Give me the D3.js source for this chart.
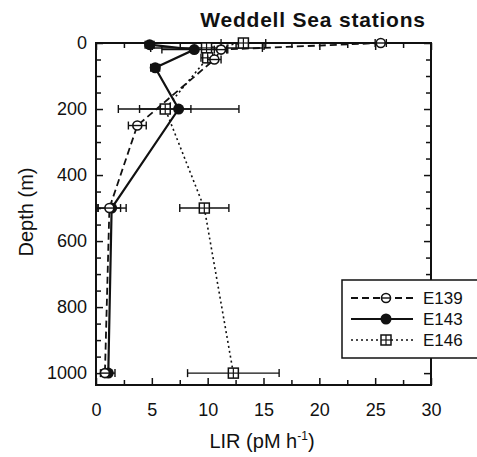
<!DOCTYPE html>
<html><head><meta charset="utf-8">
<script src="https://cdn.jsdelivr.net/npm/d3@7"></script>
<style>body{margin:0;background:#fff}svg{display:block}text{font-family:"Liberation Sans",Arial,sans-serif;fill:#111}</style>
</head><body>
<svg id="c" width="477" height="457"></svg>
<script>
const seriesNames = ["E139", "E143", "E146"];
const depthE139 = [0, 20, 50, 250, 500, 1000];
const valE139   = [25.5, 11.2, 10.6, 3.7, 1.2, 0.8];
const errE139   = [0.5, 0.6, 0.6, 0.8, 1.0, 0.4];
const depthE143 = [5, 20, 75, 200, 500, 1000];
const valE143   = [4.8, 8.8, 5.3, 7.4, 1.4, 1.1];
const errE143   = [0.4, 2.9, 0.4, 5.4, 1.3, 0.6];
const depthE146 = [0, 15, 45, 200, 500, 1000];
const valE146   = [13.2, 9.9, 10.0, 6.2, 9.7, 12.3];
const errE146   = [2.0, 5.0, 0.6, 2.3, 2.2, 4.1];
const xTicks = [0, 5, 10, 15, 20, 25, 30];
const yTicks = [0, 200, 400, 600, 800, 1000];

const svg = d3.select("#c");
const L = 96, R = 431, T = 43, B = 385;
const x = d3.scaleLinear().domain([0, 30]).range([L, R]);
const y = d3.scaleLinear().domain([0, 1036]).range([T, B]);

const series = [
  {name: seriesNames[0], d: depthE139, v: valE139, e: errE139, dash: "7,4", w: 1.8, marker: "theta"},
  {name: seriesNames[1], d: depthE143, v: valE143, e: errE143, dash: null, w: 2.2, marker: "filled"},
  {name: seriesNames[2], d: depthE146, v: valE146, e: errE146, dash: "2,3", w: 1.6, marker: "square"}
];

// frame
svg.append("rect").attr("x", L).attr("y", T).attr("width", R - L).attr("height", B - T)
  .attr("fill", "none").attr("stroke", "#111").attr("stroke-width", 2);

// axes with inward ticks
const xMinor = d3.range(0, 30.01, 2.5);
const yMinor = d3.range(0, 1036, 50);
const gb = svg.append("g").attr("transform", `translate(0,${B})`)
  .call(d3.axisBottom(x).tickValues(xMinor).tickSize(-5).tickFormat(""));
const gt = svg.append("g").attr("transform", `translate(0,${T})`)
  .call(d3.axisTop(x).tickValues(xMinor).tickSize(-5).tickFormat(""));
const gl = svg.append("g").attr("transform", `translate(${L},0)`)
  .call(d3.axisLeft(y).tickValues(yMinor).tickSize(-5).tickFormat(""));
const gr = svg.append("g").attr("transform", `translate(${R},0)`)
  .call(d3.axisRight(y).tickValues(yMinor).tickSize(-5).tickFormat(""));
[gb, gt, gl, gr].forEach(g => { g.select(".domain").remove(); g.selectAll("line").attr("stroke", "#111").attr("stroke-width", 1.5); });
gl.selectAll(".tick").filter(d => d % 200 === 0).select("line").attr("x2", 7);
gr.selectAll(".tick").filter(d => d % 200 === 0).select("line").attr("x2", -7);
gb.selectAll(".tick").filter(d => d % 5 === 0).select("line").attr("y2", -7);
gt.selectAll(".tick").filter(d => d % 5 === 0).select("line").attr("y2", 7);

// tick labels
const xl = svg.append("g").attr("transform", `translate(0,${B})`)
  .call(d3.axisBottom(x).tickValues(xTicks).tickSize(0).tickPadding(18).tickFormat(d3.format("d")));
xl.select(".domain").remove();
xl.selectAll("text").style("font-size", "18px").style("font-family", "Liberation Sans, Arial").attr("fill", "#111");
const yl = svg.append("g").attr("transform", `translate(${L},0)`)
  .call(d3.axisLeft(y).tickValues(yTicks).tickSize(0).tickPadding(9).tickFormat(d3.format("d")));
yl.select(".domain").remove();
yl.selectAll("text").style("font-size", "18px").style("font-family", "Liberation Sans, Arial").attr("fill", "#111");

// titles
svg.append("text").attr("x", 313).attr("y", 27).attr("text-anchor", "middle")
  .style("font-size", "21px").style("font-weight", "bold").style("letter-spacing", "0.8px").text("Weddell Sea stations");
svg.append("text").attr("transform", "translate(33,212) rotate(-90)").attr("text-anchor", "middle")
  .style("font-size", "20px").text("Depth (m)");
const xt = svg.append("text").attr("x", 262).attr("y", 448).attr("text-anchor", "middle").style("font-size", "20px");
xt.append("tspan").text("LIR (pM h");
xt.append("tspan").attr("dy", -8).style("font-size", "12px").text("-1");
xt.append("tspan").attr("dy", 8).text(")");

// series
const line = d3.line().x(p => x(p[0])).y(p => y(p[1]));
function marker(g, type, cx, cy) {
  if (type === "filled") {
    g.append("circle").attr("cx", cx).attr("cy", cy).attr("r", 5.5).attr("fill", "#111");
  } else if (type === "theta") {
    g.append("circle").attr("cx", cx).attr("cy", cy).attr("r", 4.5).attr("fill", "#fff").attr("stroke", "#111").attr("stroke-width", 1.6);
    g.append("line").attr("x1", cx - 4.5).attr("x2", cx + 4.5).attr("y1", cy).attr("y2", cy).attr("stroke", "#111").attr("stroke-width", 1.4);
  } else {
    g.append("rect").attr("x", cx - 5).attr("y", cy - 5).attr("width", 10).attr("height", 10).attr("fill", "#fff").attr("stroke", "#111").attr("stroke-width", 1.5);
    g.append("line").attr("x1", cx - 5).attr("x2", cx + 5).attr("y1", cy).attr("y2", cy).attr("stroke", "#111").attr("stroke-width", 1.2);
    g.append("line").attr("x1", cx).attr("x2", cx).attr("y1", cy - 5).attr("y2", cy + 5).attr("stroke", "#111").attr("stroke-width", 1.2);
  }
}
series.slice().reverse().forEach(s => {
  const g = svg.append("g");
  const pts = s.v.map((v, i) => [v, s.d[i]]);
  g.append("path").attr("d", line(pts)).attr("fill", "none").attr("stroke", "#111")
    .attr("stroke-width", s.w).attr("stroke-dasharray", s.dash);
  pts.forEach((p, i) => {
    const e = s.e[i], cy = y(p[1]);
    g.append("line").attr("x1", x(p[0] - e)).attr("x2", x(p[0] + e)).attr("y1", cy).attr("y2", cy).attr("stroke", "#111").attr("stroke-width", 1.4);
    [p[0] - e, p[0] + e].forEach(v => g.append("line").attr("x1", x(v)).attr("x2", x(v)).attr("y1", cy - 4).attr("y2", cy + 4).attr("stroke", "#111").attr("stroke-width", 1.4));
  });
  pts.forEach(p => marker(g, s.marker, x(p[0]), y(p[1])));
});

// legend
const lg = svg.append("g");
lg.append("rect").attr("x", 342).attr("y", 280).attr("width", 150).attr("height", 78)
  .attr("fill", "#fff").attr("stroke", "#111").attr("stroke-width", 1.5);
series.forEach((s, i) => {
  const cy = 298 + i * 21;
  lg.append("line").attr("x1", 351).attr("x2", 413).attr("y1", cy).attr("y2", cy)
    .attr("stroke", "#111").attr("stroke-width", s.w).attr("stroke-dasharray", s.dash);
  marker(lg, s.marker, 386, cy);
  lg.append("text").attr("x", 423).attr("y", cy + 6).style("font-size", "17px").text(s.name);
});
</script>
</body></html>
